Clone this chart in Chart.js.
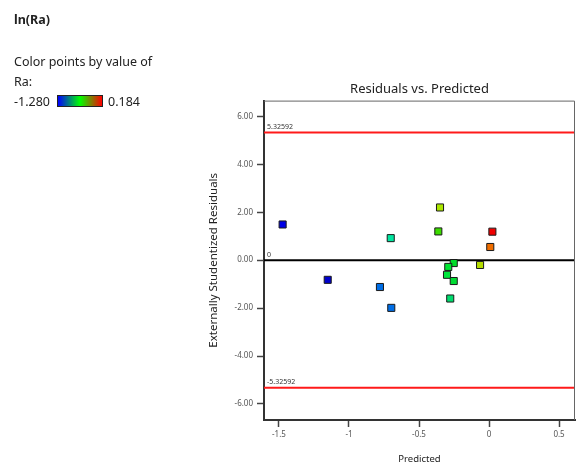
<!DOCTYPE html>
<html><head><meta charset="utf-8">
<script src="https://cdn.jsdelivr.net/npm/chart.js@4.4.0/dist/chart.umd.min.js"></script>
<style>
html,body{margin:0;padding:0;background:#fff;}
#wrap{position:relative;width:576px;height:465px;overflow:hidden;}
#c{position:absolute;left:0;top:0;}
.t{position:absolute;font-family:"Noto Sans",sans-serif;color:#222;white-space:nowrap;font-size:12.5px;line-height:15px;}
</style></head><body>
<div id="wrap">
<canvas id="c" width="576" height="465"></canvas>
<div class="t" style="left:14px;top:12px;font-weight:bold">ln(Ra)</div>
<div class="t" style="left:14px;top:54px">Color points by value of</div>
<div class="t" style="left:14px;top:74px">Ra:</div>
<div class="t" id="lo" style="left:14px;top:94px"></div>
<div style="position:absolute;left:57px;top:95px;width:44px;height:10px;border:1px solid #222;background:linear-gradient(to right,#0000ff,#00ff00,#ff0000)"></div>
<div class="t" id="hi" style="left:108px;top:94px"></div>
</div>
<script>
const predicted = [-1.474, -1.152, -0.779, -0.698, -0.702, -0.350, -0.362, 0.024, 0.009, -0.064, -0.252, -0.291, -0.300, -0.252, -0.277];
const residuals = [1.49, -0.82, -1.12, -1.99, 0.92, 2.20, 1.20, 1.19, 0.55, -0.20, -0.12, -0.28, -0.61, -0.87, -1.60];
const pointColors = ['#0000e6', '#0000cc', '#006ee6', '#006ee6', '#00e6a0', '#aae600', '#3cdc00', '#f00000', '#f06e00', '#b4dc00', '#00dc28', '#00e632', '#00e63c', '#00dc32', '#00dc6e'];
const controlLimits = [5.32592, -5.32592];
const zeroLine = [0];
const colorRange = [-1.280, 0.184];
const xTicks = [-1.5, -1, -0.5, 0, 0.5];
const yTicks = [-6, -4, -2, 0, 2, 4, 6];
const xRange = [-1.607, 0.614];
const yRange = [-6.67, 6.66];

document.getElementById('lo').textContent = colorRange[0].toFixed(3);
document.getElementById('hi').textContent = colorRange[1].toFixed(3);

Chart.defaults.font.family = "'Noto Sans', sans-serif";

const hLine = (v, color) => ({
  type: 'line',
  data: [{x: xRange[0], y: v}, {x: xRange[1], y: v}],
  borderColor: color, borderWidth: 2, pointRadius: 0, pointHoverRadius: 0, pointBorderWidth: 0, order: 2
});

const framePlugin = {
  id: 'frame',
  afterDraw(chart) {
    const {ctx, chartArea: a, scales} = chart;
    ctx.save();
    ctx.strokeStyle = '#666';
    ctx.lineWidth = 1;
    ctx.beginPath();
    ctx.moveTo(a.left, a.top + 0.5);
    ctx.lineTo(a.right - 0.5, a.top + 0.5);
    ctx.lineTo(a.right - 0.5, a.bottom);
    ctx.stroke();
    ctx.fillStyle = '#333';
    ctx.font = "7px 'Noto Sans', sans-serif";
    ctx.textBaseline = 'bottom';
    ctx.textAlign = 'left';
    const lbls = [controlLimits[0], zeroLine[0], controlLimits[1]];
    lbls.forEach(v => {
      const y = scales.y.getPixelForValue(v);
      const txt = v === 0 ? '0' : String(v);
      ctx.fillText(txt, a.left + 3, y - 2);
    });
    ctx.restore();
  }
};

new Chart(document.getElementById('c'), {
  type: 'scatter',
  data: {
    datasets: [
      {
        type: 'scatter',
        data: predicted.map((x, i) => ({x, y: residuals[i]})),
        pointStyle: 'rect', pointRadius: 5, pointHoverRadius: 5,
        backgroundColor: pointColors, borderColor: '#1a1a1a', borderWidth: 1, order: 0
      },
      hLine(controlLimits[0], '#ff1a1a'),
      hLine(controlLimits[1], '#ff1a1a'),
      hLine(zeroLine[0], '#000000')
    ]
  },
  options: {
    responsive: false, animation: false,
    layout: {autoPadding: false, padding: {left: 200, top: 0, right: 1, bottom: 0}},
    plugins: {
      legend: {display: false}, tooltip: {enabled: false},
      title: {
        display: true, text: 'Residuals vs. Predicted', fullSize: false,
        color: '#222', font: {size: 13, weight: 'normal'},
        padding: {top: 81, bottom: 4}
      }
    },
    scales: {
      x: {
        type: 'linear', min: xRange[0], max: xRange[1],
        afterBuildTicks: s => { s.ticks = xTicks.map(v => ({value: v})); },
        afterFit: s => { s.height = 45; },
        ticks: {autoSkip: false, maxRotation: 0, padding: 3, color: '#555', font: {size: 8},
          callback: v => String(v)},
        grid: {drawOnChartArea: false, drawTicks: true, tickLength: 7, tickColor: '#444', tickWidth: 1.5},
        border: {display: true, color: '#333', width: 2},
        title: {display: true, text: 'Predicted', color: '#222', font: {size: 9.5}, padding: {top: 0, bottom: 0}}
      },
      y: {
        type: 'linear', min: yRange[0], max: yRange[1],
        afterBuildTicks: s => { s.ticks = yTicks.map(v => ({value: v})); },
        afterFit: s => { s.width = 64; },
        ticks: {autoSkip: false, padding: 4, color: '#555', font: {size: 8},
          callback: v => Number(v).toFixed(2)},
        grid: {drawOnChartArea: false, drawTicks: true, tickLength: 7, tickColor: '#444', tickWidth: 1.5},
        border: {display: true, color: '#333', width: 2},
        title: {display: true, text: 'Externally Studentized Residuals', color: '#222', font: {size: 11.5}, padding: {top: 7, bottom: 0}}
      }
    }
  },
  plugins: [framePlugin]
});
</script>
</body></html>
